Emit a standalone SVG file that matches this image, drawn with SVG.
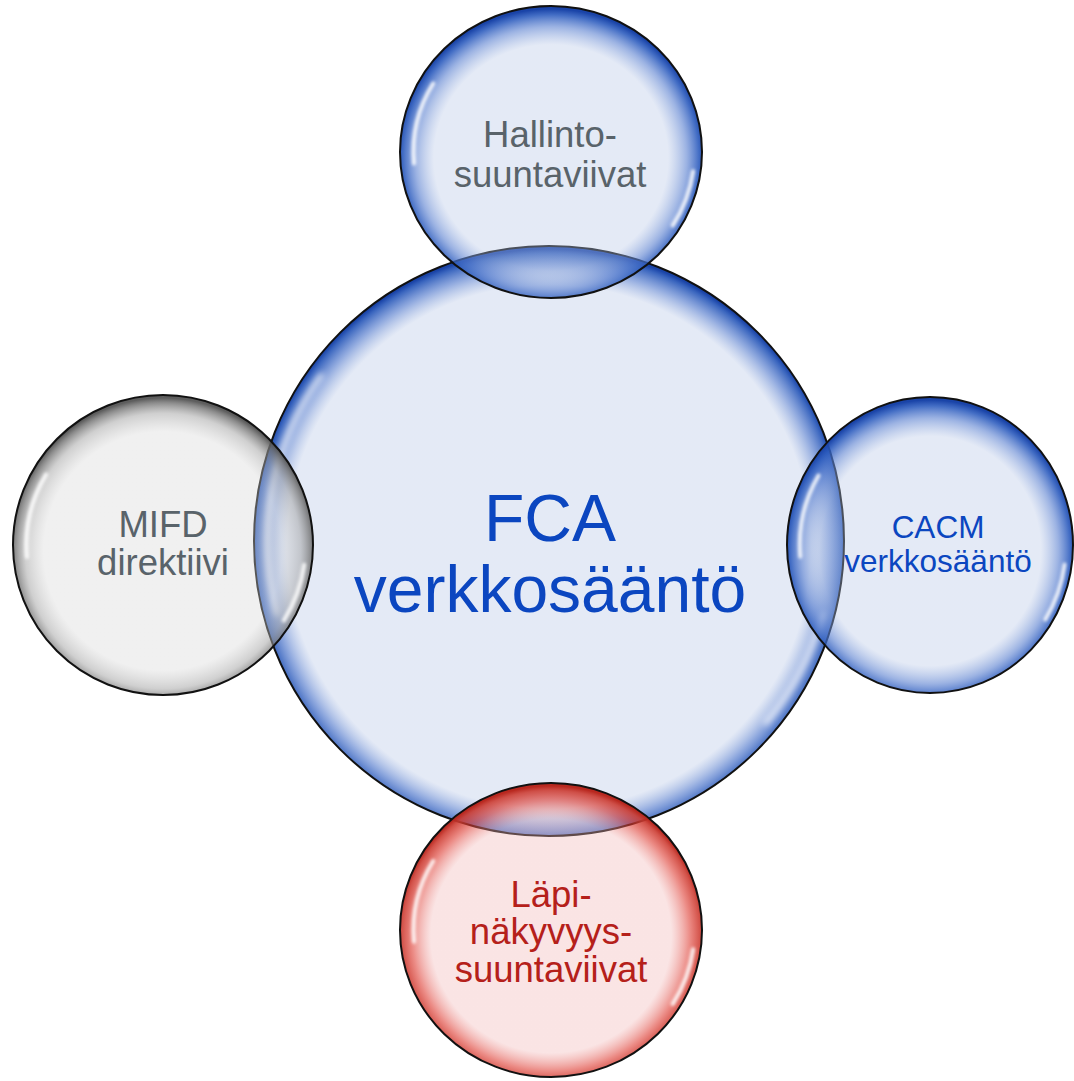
<svg xmlns="http://www.w3.org/2000/svg" width="1074" height="1081" viewBox="0 0 1074 1081">
<style>
  .lbl { font-family: "Liberation Sans", Arial, sans-serif; text-anchor: middle; }
  .gray { fill: #59636A; }
  .blue { fill: #0B46C0; }
  .red { fill: #B5201A; }
  .rim { stroke: #111; }
  .hl { fill: none; stroke: #FFFFFF; stroke-linecap: round; stroke-opacity: 0.85; }
</style>
<defs>
  <filter id="soft" x="-30%" y="-30%" width="160%" height="160%">
    <feGaussianBlur stdDeviation="1.1"/>
  </filter>
  <radialGradient id="gBlue" cx="0.5" cy="0.52" r="0.51">
    <stop offset="0" stop-color="#B2C3E5" stop-opacity="0.35"/>
    <stop offset="0.76" stop-color="#B2C3E5" stop-opacity="0.35"/>
    <stop offset="0.88" stop-color="#5A80D0" stop-opacity="0.6"/>
    <stop offset="0.96" stop-color="#2A5ABD" stop-opacity="0.88"/>
    <stop offset="1" stop-color="#1A44A8" stop-opacity="1"/>
  </radialGradient>
  <radialGradient id="gBlueBig" cx="0.5" cy="0.51" r="0.505">
    <stop offset="0" stop-color="#B2C3E5" stop-opacity="0.35"/>
    <stop offset="0.88" stop-color="#B2C3E5" stop-opacity="0.35"/>
    <stop offset="0.94" stop-color="#5078CC" stop-opacity="0.62"/>
    <stop offset="0.985" stop-color="#2656B8" stop-opacity="0.9"/>
    <stop offset="1" stop-color="#1A44A8" stop-opacity="1"/>
  </radialGradient>
  <radialGradient id="gGray" cx="0.5" cy="0.52" r="0.51">
    <stop offset="0" stop-color="#D4D4D4" stop-opacity="0.35"/>
    <stop offset="0.78" stop-color="#D4D4D4" stop-opacity="0.35"/>
    <stop offset="0.9" stop-color="#A0A0A0" stop-opacity="0.5"/>
    <stop offset="0.97" stop-color="#6E6E6E" stop-opacity="0.8"/>
    <stop offset="1" stop-color="#555555" stop-opacity="0.95"/>
  </radialGradient>
  <radialGradient id="gRed" cx="0.5" cy="0.52" r="0.51">
    <stop offset="0" stop-color="#F1B2B2" stop-opacity="0.35"/>
    <stop offset="0.78" stop-color="#F1B2B2" stop-opacity="0.35"/>
    <stop offset="0.9" stop-color="#DE3A30" stop-opacity="0.58"/>
    <stop offset="0.97" stop-color="#CC3A30" stop-opacity="0.88"/>
    <stop offset="1" stop-color="#B8281F" stop-opacity="1"/>
  </radialGradient>
</defs>

<g id="connectors"></g>

<g id="node-fca">
  <g transform="translate(549 541)">
    <circle r="295" fill="url(#gBlueBig)" class="rim" stroke-width="2"/>
    <g transform="scale(2.95)" filter="url(#soft)">
      <path class="hl" stroke-width="1.5" d="M -77.3 -56.1 A 95.5 95.5 0 0 0 -92.2 24.7"/>
      <path class="hl" stroke-width="1.5" d="M 92.7 24.8 A 96 96 0 0 1 73.5 61.7"/>
    </g>
  </g>
  <text class="lbl blue" x="550" y="541" font-size="66">FCA</text>
  <text class="lbl blue" x="550" y="612" font-size="66">verkkosääntö</text>
</g>

<g id="node-hallinto">
  <g transform="translate(551 152)">
    <ellipse rx="151" ry="146" fill="url(#gBlue)" class="rim" stroke-width="2"/>
    <g transform="scale(1.51 1.46)" filter="url(#soft)">
      <path class="hl" stroke-width="2.8" d="M -78 -46.9 A 91 91 0 0 0 -90.7 7.9"/>
      <path class="hl" stroke-width="2.8" d="M 94.1 13.2 A 95 95 0 0 1 80.6 50.3"/>
    </g>
  </g>
  <text class="lbl gray" x="550" y="147" font-size="36.5">Hallinto-</text>
  <text class="lbl gray" x="550" y="187" font-size="36.5">suuntaviivat</text>
</g>

<g id="node-mifd">
  <g transform="translate(163 545)">
    <circle r="150" fill="url(#gGray)" class="rim" stroke-width="2"/>
    <g transform="scale(1.5)" filter="url(#soft)">
      <path class="hl" stroke-width="2.8" d="M -78 -46.9 A 91 91 0 0 0 -90.7 7.9"/>
      <path class="hl" stroke-width="2.8" d="M 94.1 13.2 A 95 95 0 0 1 80.6 50.3"/>
    </g>
  </g>
  <text class="lbl gray" x="163" y="537" font-size="36.5">MIFD</text>
  <text class="lbl gray" x="163" y="575" font-size="36.5">direktiivi</text>
</g>

<g id="node-cacm">
  <g transform="translate(930 545)">
    <ellipse rx="143" ry="148" fill="url(#gBlue)" class="rim" stroke-width="2"/>
    <g transform="scale(1.43 1.48)" filter="url(#soft)">
      <path class="hl" stroke-width="2.8" d="M -78 -46.9 A 91 91 0 0 0 -90.7 7.9"/>
      <path class="hl" stroke-width="2.8" d="M 94.1 13.2 A 95 95 0 0 1 80.6 50.3"/>
    </g>
  </g>
  <text class="lbl blue" x="938" y="538" font-size="31.5">CACM</text>
  <text class="lbl blue" x="938" y="572" font-size="31.5">verkkosääntö</text>
</g>

<g id="node-lapinakyvyys">
  <g transform="translate(551 930)">
    <ellipse rx="151" ry="147" fill="url(#gRed)" class="rim" stroke-width="2"/>
    <g transform="scale(1.51 1.47)" filter="url(#soft)">
      <path class="hl" stroke-width="2.8" d="M -78 -46.9 A 91 91 0 0 0 -90.7 7.9"/>
      <path class="hl" stroke-width="2.8" d="M 94.1 13.2 A 95 95 0 0 1 80.6 50.3"/>
    </g>
  </g>
  <text class="lbl red" x="551" y="907" font-size="36.5">Läpi-</text>
  <text class="lbl red" x="551" y="944" font-size="36.5">näkyvyys-</text>
  <text class="lbl red" x="551" y="982" font-size="36.5">suuntaviivat</text>
</g>
</svg>
